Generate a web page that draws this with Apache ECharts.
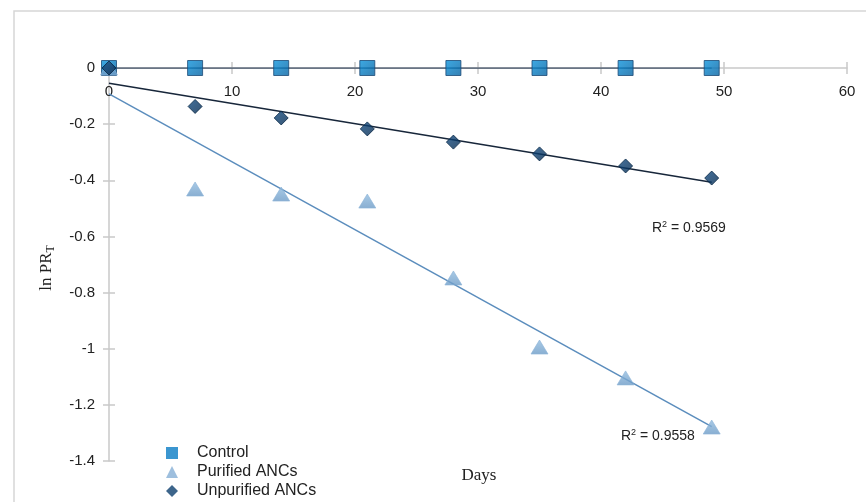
<!DOCTYPE html>
<html>
<head>
<meta charset="utf-8">
<script src="https://cdn.jsdelivr.net/npm/echarts@6/dist/echarts.min.js"></script>
<style>html,body{margin:0;padding:0;background:#fff}#c{width:866px;height:502px}</style>
</head>
<body>
<div id="c"></div>
<script>
const days = [0, 7, 14, 21, 28, 35, 42, 49];
const control = [0, 0, 0, 0, 0, 0, 0, 0];
const purified = [0, -0.431, -0.449, -0.474, -0.748, -0.994, -1.104, -1.279];
const unpurified = [0, -0.137, -0.178, -0.217, -0.264, -0.306, -0.349, -0.392];
const seriesNames = ['Control', 'Purified ANCs', 'Unpurified ANCs'];
const r2Labels = ['0.9569', '0.9558'];
const xTicks = { min: 0, max: 60, interval: 10 };
const yTicks = { min: -1.4, max: 0, interval: 0.2 };

function pairs(xs, ys) { return xs.map((x, i) => [x, ys[i]]); }
function trend(xs, ys) {
  const n = xs.length;
  const mx = xs.reduce((a, b) => a + b, 0) / n;
  const my = ys.reduce((a, b) => a + b, 0) / n;
  let sxy = 0, sxx = 0;
  for (let i = 0; i < n; i++) { sxy += (xs[i] - mx) * (ys[i] - my); sxx += (xs[i] - mx) ** 2; }
  const b = sxy / sxx, a = my - b * mx;
  const x0 = xs[0], x1 = xs[n - 1];
  return [[x0, a + b * x0], [x1, a + b * x1]];
}

const chart = echarts.init(document.getElementById('c'), null, { renderer: 'canvas' });
const axisGray = '#c9c9c9';
const labelFont = { fontFamily: 'Liberation Sans, Arial, sans-serif', fontSize: 15, color: '#222' };

const option = {
  animation: false,
  backgroundColor: '#fff',
  grid: { left: 109, top: 68, right: 19, bottom: 41 },
  xAxis: [
    { type: 'value', position: 'top', min: xTicks.min, max: xTicks.max, interval: xTicks.interval,
      axisLine: { onZero: false, lineStyle: { color: axisGray, width: 1.5 } },
      axisTick: { show: true, length: 6, lineStyle: { color: axisGray, width: 1.5 } },
      axisLabel: Object.assign({ inside: true, margin: 16 }, labelFont),
      splitLine: { show: false } },
    { type: 'value', position: 'top', min: xTicks.min, max: xTicks.max, interval: xTicks.interval,
      axisLine: { show: false, onZero: false },
      axisTick: { show: true, inside: true, length: 6, lineStyle: { color: axisGray, width: 1.5 } },
      axisLabel: { show: false }, splitLine: { show: false } }
  ],
  yAxis: [
    { type: 'value', min: yTicks.min, max: yTicks.max, interval: yTicks.interval,
      axisLine: { show: true, onZero: false, lineStyle: { color: axisGray, width: 1.5 } },
      axisTick: { show: true, length: 6, lineStyle: { color: axisGray, width: 1.5 } },
      axisLabel: Object.assign({ margin: 14 }, labelFont),
      splitLine: { show: false } },
    { type: 'value', min: yTicks.min, max: yTicks.max, interval: yTicks.interval, position: 'left',
      axisLine: { show: false, onZero: false },
      axisTick: { show: true, inside: true, length: 6, lineStyle: { color: axisGray, width: 1.5 } },
      axisLabel: { show: false }, splitLine: { show: false } }
  ],
  legend: {
    orient: 'vertical', left: 166, top: 444, itemGap: 1, itemWidth: 12, itemHeight: 12, padding: 0, height: 70,
    data: [
      { name: seriesNames[0], itemStyle: { color: '#0a7cc4', borderWidth: 0 } },
      { name: seriesNames[1], itemStyle: { color: '#86afd6', borderWidth: 0 } },
      { name: seriesNames[2], itemStyle: { color: '#0c3f6e', borderWidth: 0 } }
    ],
    textStyle: { fontFamily: 'Liberation Sans, Arial, sans-serif', fontSize: 16, lineHeight: 18, color: '#222', padding: [0, 0, 0, 14] }
  },
  graphic: [
    { type: 'rect', shape: { x: 14, y: 11, width: 900, height: 600 }, style: { fill: 'none', stroke: '#d6d6d6', lineWidth: 1.5 }, z: -10 },
    { type: 'text', x: 47, y: 268, rotation: Math.PI / 2, style: {
        text: 'ln PR{sub|T}', fill: '#222', font: '17px "Liberation Serif", "DejaVu Serif", serif',
        align: 'center', verticalAlign: 'middle',
        rich: { sub: { fontSize: 12, fontFamily: 'Liberation Serif', verticalAlign: 'bottom', padding: [8, 0, 0, 0], fill: '#222' } } } },
    { type: 'text', x: 479, y: 476, style: { text: 'Days', fill: '#222', font: '17px "Liberation Serif", "DejaVu Serif", serif', align: 'center', verticalAlign: 'middle' } },
    { type: 'text', x: 652, y: 228, style: { text: 'R{sup|2} = ' + r2Labels[0], fill: '#222', font: '14px "Liberation Sans", Arial, sans-serif', verticalAlign: 'middle',
        rich: { sup: { fontSize: 9, verticalAlign: 'top', padding: [0, 0, 6, 0], fill: '#222' } } } },
    { type: 'text', x: 621, y: 436, style: { text: 'R{sup|2} = ' + r2Labels[1], fill: '#222', font: '14px "Liberation Sans", Arial, sans-serif', verticalAlign: 'middle',
        rich: { sup: { fontSize: 9, verticalAlign: 'top', padding: [0, 0, 6, 0], fill: '#222' } } } }
  ],
  series: [
    { type: 'line', data: trend(days, control), showSymbol: false, silent: true, z: 1,
      lineStyle: { color: '#44546a', width: 1.5 } },
    { type: 'line', data: trend(days, purified), showSymbol: false, silent: true, z: 1,
      lineStyle: { color: '#5b8dbd', width: 1.5 } },
    { type: 'line', data: trend(days, unpurified), showSymbol: false, silent: true, z: 1,
      lineStyle: { color: '#17263a', width: 1.5 } },
    { name: seriesNames[0], type: 'scatter', data: pairs(days, control), symbol: 'rect', symbolSize: 15, z: 3,
      itemStyle: { color: new echarts.graphic.LinearGradient(0, 0, 1, 1, [{ offset: 0, color: '#0a94de' }, { offset: 1, color: '#04609f' }]), borderColor: '#1b4a76', borderWidth: 1 } },
    { name: seriesNames[1], type: 'scatter', data: pairs(days, purified), symbol: 'triangle', symbolSize: [17, 14], z: 4,
      itemStyle: { color: new echarts.graphic.LinearGradient(0, 0, 0, 1, [{ offset: 0, color: '#93bde0' }, { offset: 1, color: '#6b9ac6' }]), borderColor: '#8db4d8', borderWidth: 0.8 } },
    { name: seriesNames[2], type: 'scatter', data: pairs(days, unpurified), symbol: 'diamond', symbolSize: [14, 14], z: 5,
      itemStyle: { color: new echarts.graphic.LinearGradient(0, 0, 1, 1, [{ offset: 0, color: '#0f4a82' }, { offset: 1, color: '#072b4f' }]), borderColor: '#082745', borderWidth: 1 } }
  ]
};
chart.setOption(option);
</script>
</body>
</html>
